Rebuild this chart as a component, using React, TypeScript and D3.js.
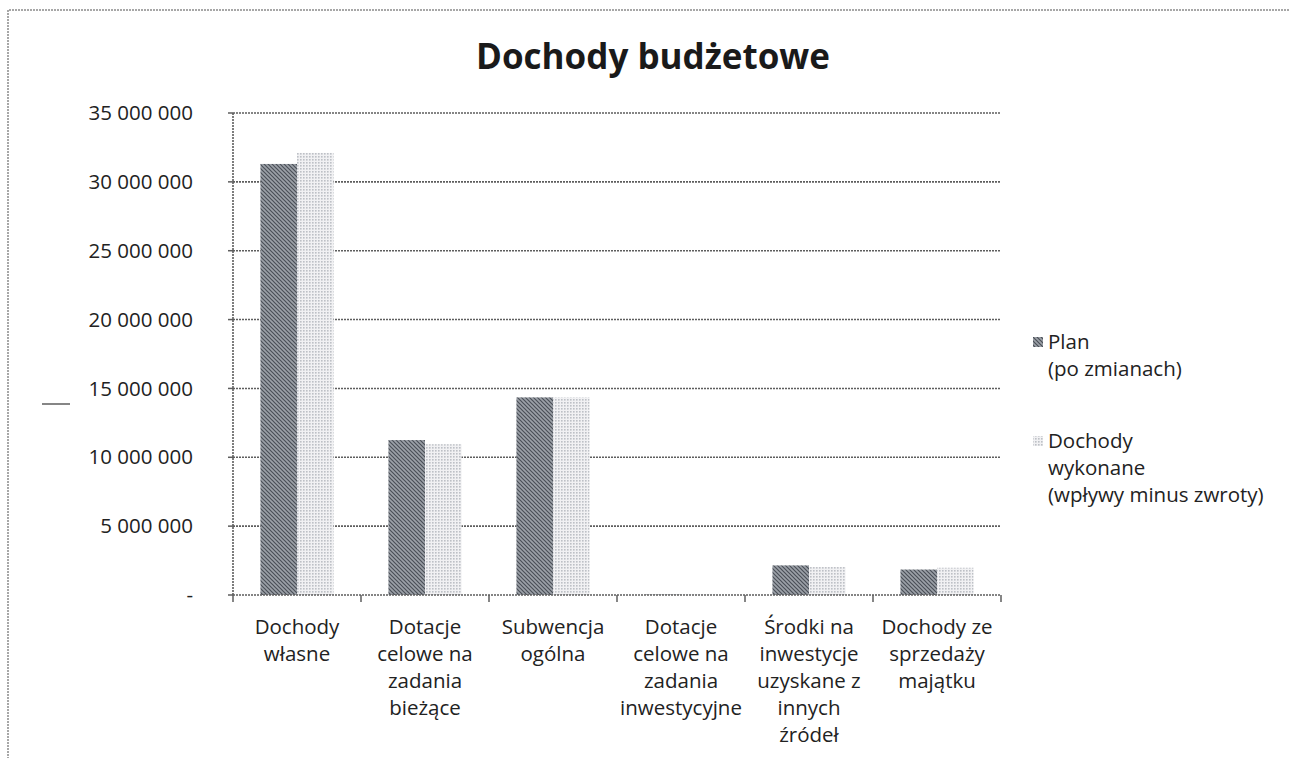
import React from "react";
import * as d3 from "d3";

const categories: string[][] = [
  ["Dochody", "własne"],
  ["Dotacje", "celowe na", "zadania", "bieżące"],
  ["Subwencja", "ogólna"],
  ["Dotacje", "celowe na", "zadania", "inwestycyjne"],
  ["Środki na", "inwestycje", "uzyskane z", "innych", "źródeł"],
  ["Dochody ze", "sprzedaży", "majątku"],
];
const planValues = [31300000, 11250000, 14350000, 30000, 2150000, 1850000];
const wykonaneValues = [32100000, 10950000, 14350000, 20000, 2030000, 1980000];
const yTicks = [0, 5000000, 10000000, 15000000, 20000000, 25000000, 30000000, 35000000];
const seriesNames = [["Plan", "(po zmianach)"], ["Dochody", "wykonane", "(wpływy minus zwroty)"]];

const FONT = "'Open Sans', 'Noto Sans', sans-serif";

export default function App() {
  const W = 1289, H = 758;
  const left = 233, right = 1001, top = 113, bottom = 595;
  const y = d3.scaleLinear().domain([0, 35000000]).range([bottom, top]);
  const x0 = d3.scaleBand().domain(categories.map((_, i) => String(i))).range([left, right]).paddingInner(0).paddingOuter(0);
  const bw = x0.bandwidth() / 3.5;
  const fmt = (v: number) => (v === 0 ? "-" : d3.format(",")(v).replace(/,/g, " "));
  const textColor = "#222";
  const gridColor = "#5e5e5e";
  const fs = 20.5;

  return (
    <svg width={W} height={H} style={{ position: "absolute", left: 0, top: 0, background: "#fff" }}>
      <defs>
        <pattern id="hatch" width="4" height="4" patternUnits="userSpaceOnUse">
          <rect width="4" height="4" fill="#9ca1a8" />
          <path d="M-1,-1 L5,5 M-1,3 L1,5 M3,-1 L5,1" stroke="#4a4f57" strokeWidth="1.2" />
        </pattern>
        <pattern id="dots" width="3" height="3" patternUnits="userSpaceOnUse">
          <rect width="3" height="3" fill="#f1f1f3" />
          <rect width="1.6" height="1.6" fill="#bdc0c6" />
        </pattern>
      </defs>
      {/* chart border */}
      <path d={`M1289,10 L8,10 L8,758`} fill="none" stroke="#8a8a8a" strokeWidth={1.5} strokeDasharray="2 1" />
      {/* stray mark */}
      <line x1={42} x2={70} y1={404} y2={404} stroke="#444" strokeWidth={1.3} />
      <text x={653} y={69} textAnchor="middle" fontFamily={FONT} fontWeight="bold" fontSize={35} fill="#1a1a1a">
        Dochody budżetowe
      </text>
      {/* gridlines */}
      {yTicks.map((t) => (
        <g key={t}>
          {t > 0 && (
            <line x1={left} x2={right} y1={y(t)} y2={y(t)} stroke={gridColor} strokeWidth={1.6} strokeDasharray="2 1" />
          )}
          <line x1={left - 5} x2={left} y1={y(t)} y2={y(t)} stroke={gridColor} strokeWidth={1.5} />
          <text x={193} y={y(t)} dy="0.35em" textAnchor="end" fontFamily={FONT} fontSize={fs} fill={textColor}>
            {fmt(t)}
          </text>
        </g>
      ))}
      {/* bars */}
      {categories.map((_, i) => {
        const bx = (x0(String(i)) as number) + bw * 0.75;
        return (
          <g key={i}>
            <rect x={bx} y={y(planValues[i])} width={bw} height={bottom - y(planValues[i])} fill="url(#hatch)" />
            <rect x={bx + bw} y={y(wykonaneValues[i])} width={bw} height={bottom - y(wykonaneValues[i])} fill="url(#dots)" />
          </g>
        );
      })}
      {/* axes */}
      <line x1={left} x2={left} y1={top} y2={bottom} stroke={gridColor} strokeWidth={1.6} strokeDasharray="2 1" />
      <line x1={left} x2={right} y1={bottom} y2={bottom} stroke={gridColor} strokeWidth={1.6} strokeDasharray="2 1" />
      {d3.range(categories.length + 1).map((i) => {
        const xx = left + i * x0.bandwidth();
        return <line key={i} x1={xx} x2={xx} y1={bottom} y2={bottom + 7} stroke={gridColor} strokeWidth={1.5} />;
      })}
      {/* category labels */}
      {categories.map((lines, i) => {
        const cx = (x0(String(i)) as number) + x0.bandwidth() / 2;
        return (
          <text key={i} textAnchor="middle" fontFamily={FONT} fontSize={fs} fill={textColor}>
            {lines.map((l, j) => (
              <tspan key={j} x={cx} y={634 + j * 27}>
                {l}
              </tspan>
            ))}
          </text>
        );
      })}
      {/* legend */}
      {seriesNames.map((lines, i) => {
        const ly = i === 0 ? 342 : 441;
        return (
          <g key={i}>
            <rect x={1033} y={ly - 5} width={10} height={10} fill={i === 0 ? "url(#hatch)" : "url(#dots)"} />
            <text fontFamily={FONT} fontSize={fs} fill={textColor}>
              {lines.map((l, j) => (
                <tspan key={j} x={1048} y={ly + 7 + j * 27}>
                  {l}
                </tspan>
              ))}
            </text>
          </g>
        );
      })}
    </svg>
  );
}
